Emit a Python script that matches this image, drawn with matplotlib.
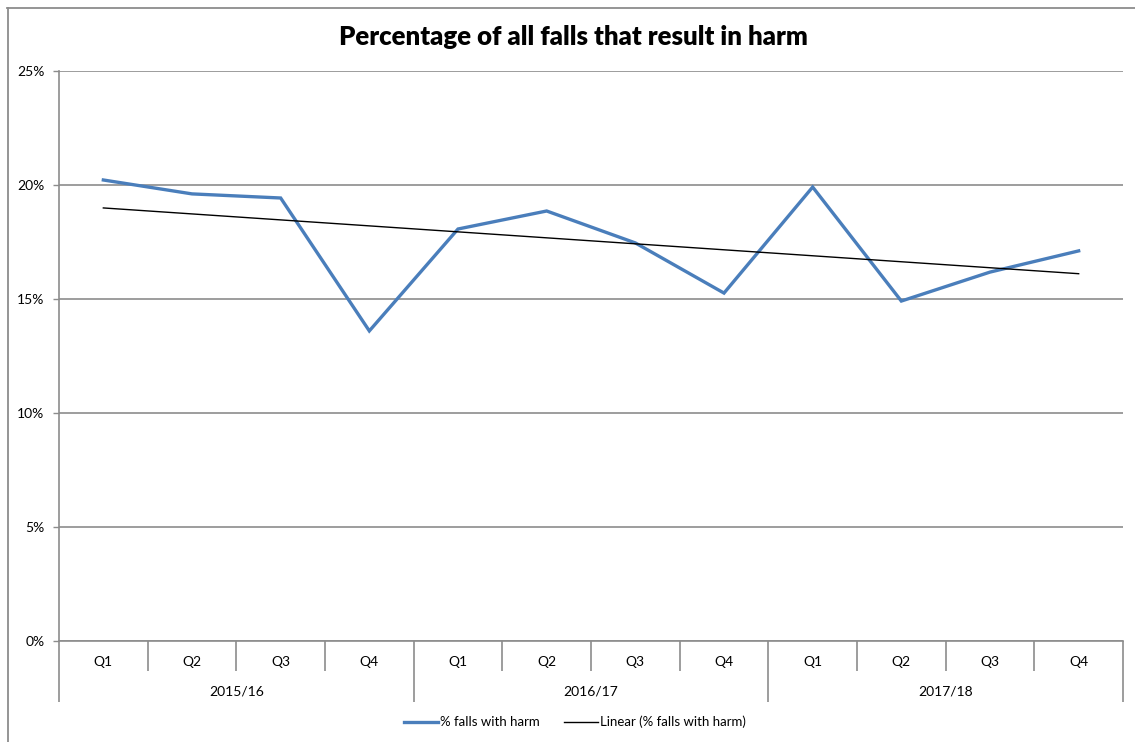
import numpy as np
import matplotlib
matplotlib.use("Agg")
import matplotlib.pyplot as plt
from matplotlib.ticker import FuncFormatter, FixedLocator
from matplotlib.lines import Line2D

# ---- data ----
years = ["2015/16", "2016/17", "2017/18"]
quarters = ["Q1", "Q2", "Q3", "Q4"]
pct_harm = [20.22, 19.61, 19.43, 13.60, 18.07, 18.86, 17.46, 15.26, 19.91, 14.91, 16.18, 17.11]
series_name = "% falls with harm"
trend_name = "Linear (% falls with harm)"
title = "Percentage of all falls that result in harm"

plt.rcParams['font.family'] = ['Lato', 'DejaVu Sans']

W, H = 1135, 742
fig = plt.figure(figsize=(W / 100, H / 100), dpi=100)

# outer chart border (top and left visible only)
bc = "#8c8c8c"
fig.add_artist(Line2D([7 / W, 1.0], [1 - 7.5 / H, 1 - 7.5 / H], transform=fig.transFigure,
                      color=bc, linewidth=1.3))
fig.add_artist(Line2D([7.5 / W, 7.5 / W], [0.0, 1 - 7.5 / H], transform=fig.transFigure,
                      color=bc, linewidth=1.3))

ax = fig.add_axes([59 / W, (H - 641) / H, (1123 - 59) / W, (641 - 71) / H])

n = len(pct_harm)
x = np.arange(n) + 0.5
blue = "#4a7ebb"
ax.plot(x, pct_harm, color=blue, linewidth=2.4, solid_joinstyle="miter", zorder=3)

coef = np.polyfit(np.arange(n), pct_harm, 1)
trend = np.polyval(coef, np.arange(n))
ax.plot(x, trend, color="black", linewidth=1.0, zorder=4)

ax.set_xlim(0, n)
ax.set_ylim(0, 25)

grid_c = "#8c8c8c"
ax.set_yticks(np.arange(0, 26, 5))
ax.yaxis.set_major_formatter(FuncFormatter(lambda v, p: f"{int(v)}%"))
ax.grid(axis="y", color=grid_c, linewidth=1.2)
ax.set_axisbelow(True)
ax.tick_params(axis="y", length=4.5, width=1.0, color=grid_c, labelsize=10, pad=6)

for s in ["top", "right"]:
    ax.spines[s].set_visible(False)
ax.spines["left"].set_color(grid_c)
ax.spines["left"].set_linewidth(1.2)
ax.spines["bottom"].set_color(grid_c)
ax.spines["bottom"].set_linewidth(1.2)

# category ticks: quarter separators and year separators
ax.xaxis.set_major_locator(FixedLocator([0, 4, 8, 12]))
ax.xaxis.set_minor_locator(FixedLocator([i for i in range(n + 1) if i % 4 != 0]))
ax.tick_params(axis="x", which="major", length=44, width=1.2, color=grid_c, labelbottom=False)
ax.tick_params(axis="x", which="minor", length=21.5, width=1.2, color=grid_c, labelbottom=False)

xt = ax.get_xaxis_transform()
for i in range(n):
    ax.annotate(quarters[i % 4], xy=(i + 0.5, 0), xycoords=xt, xytext=(0, -15),
                textcoords="offset points", ha="center", va="center", fontsize=10)
for j, yr in enumerate(years):
    ax.annotate(yr, xy=(j * 4 + 2, 0), xycoords=xt, xytext=(0, -36),
                textcoords="offset points", ha="center", va="center", fontsize=10)

fig.text(573 / W, 1 - 37 / H, title, ha="center", va="center", fontsize=18.5, fontweight="heavy")

handles = [Line2D([], [], color=blue, linewidth=2.4), Line2D([], [], color="black", linewidth=1.0)]
fig.legend(handles, [series_name, trend_name], loc="center", bbox_to_anchor=(575 / W, 1 - 722 / H),
           ncol=2, frameon=False, fontsize=9.5, handlelength=2.6, handletextpad=0.15, columnspacing=1.8)

fig.savefig("out.png", dpi=100)
